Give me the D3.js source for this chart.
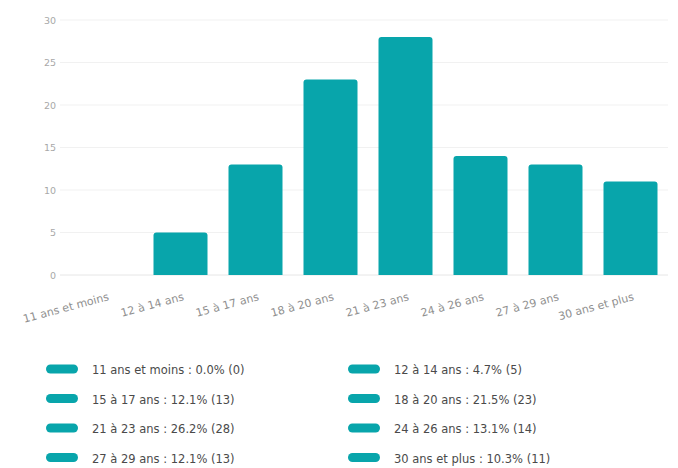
<!DOCTYPE html>
<html>
<head>
<meta charset="utf-8">
<script src="https://cdn.jsdelivr.net/npm/d3@7"></script>
<style>
  html, body { margin: 0; padding: 0; background: #fff; }
  svg { display: block; font-family: "DejaVu Sans", "Open Sans", sans-serif; }
</style>
</head>
<body>
<svg id="chart" width="678" height="468"></svg>
<script>
// Age groups and respondent counts
const categories = ["11 ans et moins", "12 à 14 ans", "15 à 17 ans", "18 à 20 ans",
                    "21 à 23 ans", "24 à 26 ans", "27 à 29 ans", "30 ans et plus"];
const counts = [0, 5, 13, 23, 28, 14, 13, 11];
const percents = ["0.0%", "4.7%", "12.1%", "21.5%", "26.2%", "13.1%", "12.1%", "10.3%"];
const yTicks = [0, 5, 10, 15, 20, 25, 30];

const barColor = "#08a5ab";
const svg = d3.select("#chart");

const x = d3.scaleBand().domain(categories).range([68, 668])
  .paddingInner(0.28).paddingOuter(0.14);
const y = d3.scaleLinear().domain([0, 30]).range([275, 20]);

// Horizontal gridlines
svg.append("g").selectAll("line").data(yTicks).join("line")
  .attr("x1", 60).attr("x2", 668)
  .attr("y1", d => y(d)).attr("y2", d => y(d))
  .attr("stroke", d => d === 0 ? "#e6e6e6" : "#f1f1f1")
  .attr("stroke-width", 1);

// Y axis labels
const yAxis = d3.axisLeft(y).tickValues(yTicks).tickSize(0).tickPadding(0);
svg.append("g").attr("transform", "translate(56,0)").call(yAxis)
  .call(g => g.select(".domain").remove())
  .call(g => g.selectAll("text").attr("fill", "#a8a8a8").attr("font-size", 9.5)
    .attr("font-family", "\"DejaVu Sans\", sans-serif"));

// Bars with rounded tops
const r = 3;
svg.append("g").selectAll("path").data(categories).join("path")
  .attr("fill", barColor)
  .attr("d", (c, i) => {
    const x0 = x(c), w = x.bandwidth(), y0 = y(counts[i]), yb = y(0);
    if (counts[i] === 0) return "";
    return `M${x0},${yb}V${y0 + r}Q${x0},${y0} ${x0 + r},${y0}H${x0 + w - r}` +
           `Q${x0 + w},${y0} ${x0 + w},${y0 + r}V${yb}Z`;
  });

// X axis labels, tilted
const xAxis = d3.axisBottom(x).tickSize(0).tickPadding(0);
svg.append("g").attr("transform", "translate(0,275)").call(xAxis)
  .call(g => g.select(".domain").remove())
  .call(g => g.selectAll("text")
    .attr("fill", "#8f8f8f").attr("font-size", 11)
    .attr("font-family", "\"DejaVu Sans\", sans-serif")
    .attr("text-anchor", "end")
    .attr("dy", null).attr("y", 0)
    .attr("transform", "translate(4,25) rotate(-15)"));

// Legend, two columns
const legend = svg.append("g");
const rows = legend.selectAll("g").data(categories).join("g")
  .attr("transform", (c, i) => `translate(${i % 2 === 0 ? 46 : 348},${369 + Math.floor(i / 2) * 29.5})`);
rows.append("rect")
  .attr("x", 0).attr("y", -4.5).attr("width", 32).attr("height", 9).attr("rx", 4.5)
  .attr("fill", barColor);
rows.append("text")
  .attr("x", 46).attr("y", 1).attr("dy", "0.35em")
  .attr("fill", "#4a4a4a").attr("font-size", 11.5)
  .text((c, i) => `${c} : ${percents[i]} (${counts[i]})`);
</script>
</body>
</html>
